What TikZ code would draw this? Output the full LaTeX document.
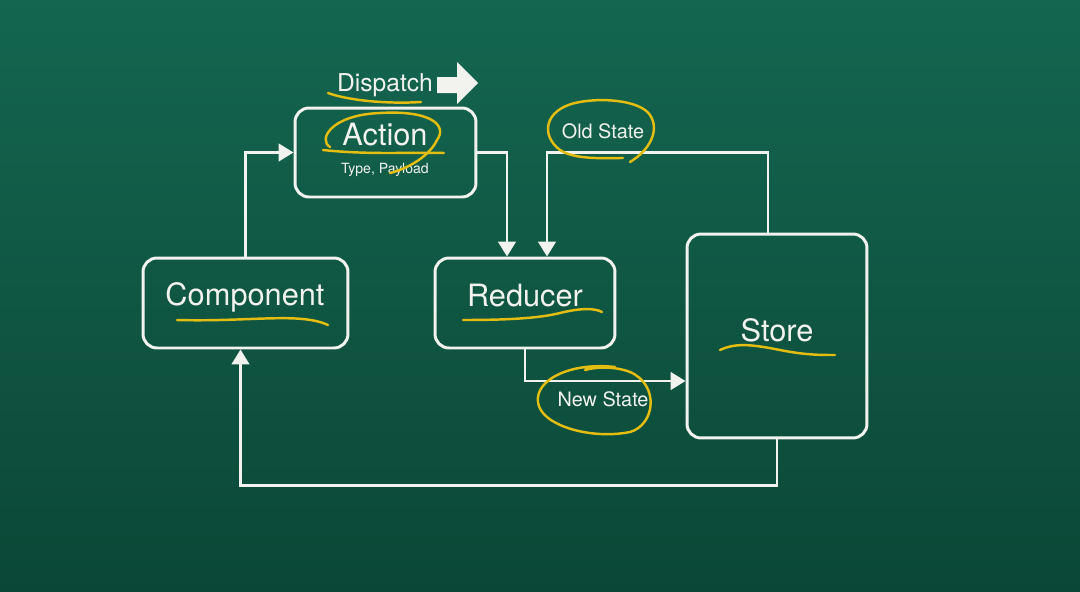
\documentclass[tikz,border=0pt]{standalone}
\usepackage{fontspec}
\setmainfont{TeX Gyre Heros}
\usetikzlibrary{arrows.meta,calc}
\definecolor{boardtop}{HTML}{146650}
\definecolor{boardmid}{HTML}{0E5541}
\definecolor{boardbottom}{HTML}{0B4736}
\definecolor{chalk}{HTML}{F2F2EE}
\definecolor{crayon}{HTML}{E3BD12}
\tikzset{
  box/.style={draw=chalk, line width=1.7pt, rounded corners=0.28cm},
  flow/.style={draw=chalk, line width=1.6pt, -{Triangle[width=10pt,length=8.5pt]}},
  hilite/.style={draw=crayon, line width=1.4pt, line cap=round},
  bigtext/.style={text=chalk, font=\fontsize{17.5}{20}\selectfont},
  dispatchtext/.style={text=chalk, font=\fontsize{14}{16}\selectfont},
  labeltext/.style={text=chalk, font=\fontsize{11.3}{13}\selectfont},
  subtext/.style={text=chalk, font=\fontsize{8}{9}\selectfont}
}
\begin{document}
\begin{tikzpicture}[x=0.02cm, y=0.02cm]
\tikzstyle{every node}+=[inner sep=0pt]
\useasboundingbox (0,0) rectangle (1080,-592);
\shade [top color=boardtop, middle color=boardmid, bottom color=boardbottom] (0,0) rectangle (1080,-592);
% boxes
\node [box, minimum width=3.62cm, minimum height=1.78cm] (action) at (385.5,-152.5) {};
\node [box, minimum width=4.1cm, minimum height=1.8cm] (component) at (245.5,-303) {};
\node [box, minimum width=3.6cm, minimum height=1.8cm] (reducer) at (525,-303) {};
\node [box, minimum width=3.6cm, minimum height=4.08cm] (store) at (777,-336) {};
% texts
\node [bigtext] (actiontitle) at (385,-135) {Action};
\node [subtext] (actionpayload) at (385,-170) {Type, Payload};
\node [bigtext] (componenttitle) at (245,-297) {Component};
\node [bigtext] (reducertitle) at (525,-296) {Reducer};
\node [bigtext] (storetitle) at (777,-330) {Store};
\node [dispatchtext] (dispatch) at (385,-85) {Dispatch};
\node [labeltext] (oldstate) at (603,-131) {Old State};
\node [labeltext] (newstate) at (603,-399) {New State};
\fill [chalk] (437,-77) -- (457,-77) -- (457,-62) -- (478,-83) -- (457,-104) -- (457,-93) -- (437,-93) -- cycle;
% connectors
\coordinate (actionin) at ($(reducer.north)+(-18,0)$);
\coordinate (oldin) at ($(reducer.north)+(22,0)$);
\draw [flow] (component.north) |- (action.west);
\draw [flow] (action.east) -| (actionin);
\draw [flow] ($(store.north)+(-9,0)$) |- (oldin |- action.east) -- (oldin);
\draw [flow] (reducer.south) |- ($(store.west)+(0,-45)$);
\draw [flow] (store.south) -- ++(0,-46) -| ($(component.south)+(-5,0)$);
% yellow crayon marks
\draw [hilite] (328,-93) .. controls (350,-101) and (390,-104) .. (421,-102);
\draw [hilite] (330,-147) .. controls (318,-140) and (330,-115) .. (380,-113) .. controls (430,-110) and (448,-125) .. (437,-140) .. controls (430,-155) and (410,-168) .. (390,-173);
\draw [hilite] (323,-150) .. controls (370,-155) and (410,-152) .. (444,-153);
\draw [hilite] (630,-162) .. controls (650,-150) and (660,-130) .. (650,-115) .. controls (640,-100) and (600,-97) .. (575,-103) .. controls (545,-110) and (540,-135) .. (560,-150) .. controls (575,-160) and (605,-158) .. (623,-158);
\draw [hilite] (615,-367) .. controls (570,-362) and (535,-380) .. (538,-402) .. controls (540,-425) and (590,-440) .. (630,-432) .. controls (655,-425) and (660,-385) .. (630,-372) .. controls (615,-366) and (595,-367) .. (585,-370);
\draw [hilite] (177,-320) .. controls (250,-322) and (300,-312) .. (328,-325);
\draw [hilite] (463,-320) .. controls (510,-320) and (540,-318) .. (560,-313) .. controls (580,-308) and (595,-308) .. (602,-312);
\draw [hilite] (720,-350) .. controls (735,-343) and (750,-344) .. (780,-350) .. controls (805,-355) and (820,-355) .. (835,-355);
\end{tikzpicture}
\end{document}
